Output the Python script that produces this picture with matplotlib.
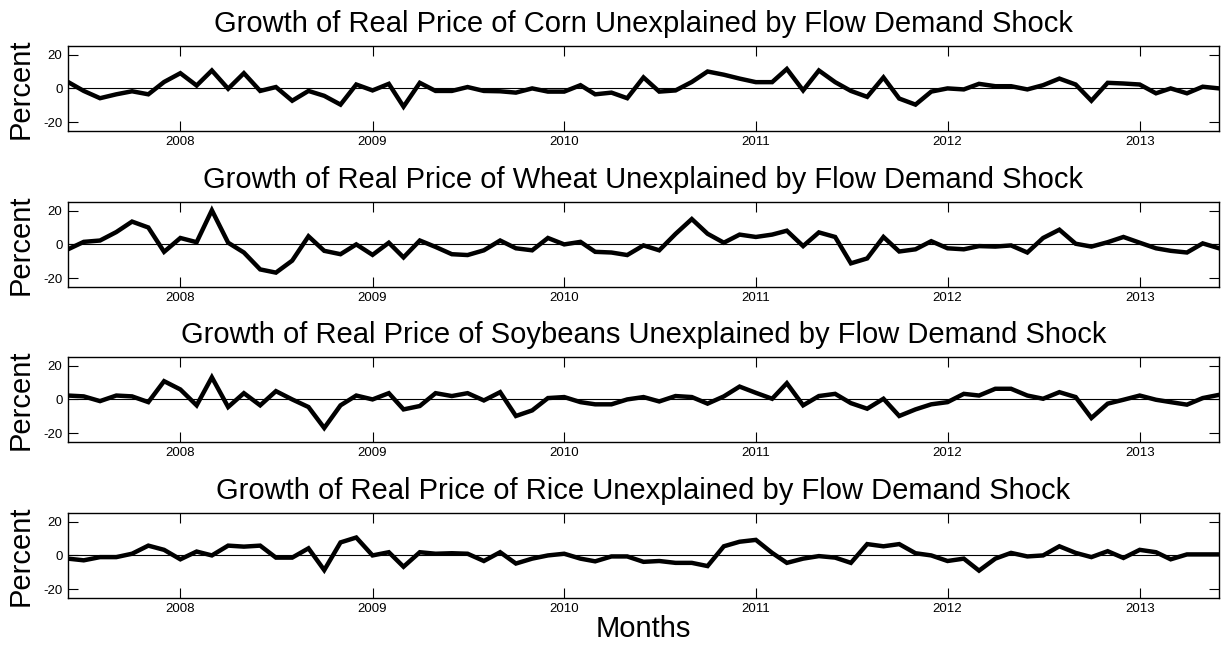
import matplotlib
matplotlib.use("Agg")
import matplotlib.pyplot as plt
import matplotlib.dates as mdates
import numpy as np
import pandas as pd

plt.rcParams['font.family'] = ['Liberation Sans', 'DejaVu Sans']
plt.rcParams['axes.unicode_minus'] = False

# monthly observations, Jun 2007 .. Jun 2013
months = pd.date_range('2007-06-01', '2013-06-01', freq='MS')

corn = [3.8, -1.5, -5.8, -3.5, -1.7, -3.5, 3.8, 9.0, 1.7, 10.6, -0.2, 9.0,
        -1.5, 0.8, -7.3, -1.5, -4.4, -9.6, 2.3, -1.2, 2.7, -10.8,
        3.3, -1.5, -1.5, 0.8, -1.5, -1.7, -2.5, 0.0, -1.9, -1.9, 1.9, -3.5,
        -2.5, -5.8, 6.5, -1.9, -1.2, 3.8, 10.0, 8.1, 5.8, 3.7, 3.7, 11.5, -1.2,
        10.6, 3.7, -1.5, -5.0, 6.5, -6.0, -9.6, -1.9, 0.0, -0.6, 2.7, 1.3,
        1.3, -0.6, 1.9, 5.8, 2.3, -7.3, 3.3, 2.9, 2.3, -2.9, 0.0, -2.9, 1.0, 0.0]

wheat = [-2.9, 1.5, 2.3, 7.3, 13.5, 10.0, -4.4, 3.8, 1.3, 20.2, 1.0, -4.8,
         -14.8, -16.7, -9.6, 4.8, -3.8, -5.8, 0.0, -6.2, 1.0, -7.7,
         2.3, -1.5, -5.8, -6.3, -3.5, 2.3, -2.3, -3.5, 3.8, 0.0, 1.5, -4.4,
         -4.8, -6.3, -0.6, -3.5, 6.2, 15.0, 6.3, 1.0, 5.8, 4.4, 5.8, 8.1, -1.0,
         7.1, 4.4, -11.2, -8.3, 4.4, -4.2, -2.9, 1.9, -2.3, -2.9, -1.0, -1.3,
         -0.6, -4.8, 3.8, 8.7, 0.4, -1.3, 1.3, 4.4, 1.0, -2.3, -3.8, -4.8, 0.6, -2.3]

soybeans = [2.3, 1.8, -1.0, 2.3, 1.8, -1.6, 10.8, 5.9, -3.5, 13.1, -4.5, 3.7,
            -3.5, 4.9, 0.0, -4.5, -16.9, -3.5, 2.3, 0.0, 3.7, -5.9,
            -3.9, 3.7, 2.0, 3.7, -0.6, 4.3, -9.8, -6.5, 0.8, 1.4, -1.6, -2.9,
            -2.9, 0.0, 1.4, -1.2, 2.0, 1.4, -2.5, 1.8, 7.6, 3.9, 0.4, 9.6, -3.5,
            2.0, 3.3, -2.2, -5.5, 0.4, -9.8, -5.9, -2.9, -1.6, 3.3, 2.3, 6.3,
            6.3, 2.3, 0.4, 4.3, 1.4, -11.0, -2.5, -0.2, 2.3, -0.2, -1.6, -3.1, 0.8, 2.7]

rice = [-1.9, -2.9, -1.0, -1.0, 1.0, 5.8, 3.3, -2.3, 2.3, 0.0, 5.8, 5.2,
        5.8, -1.3, -1.3, 4.2, -8.7, 7.7, 10.6, 0.0, 1.9, -6.7,
        1.9, 1.0, 1.3, 1.0, -3.3, 1.9, -4.8, -1.9, 0.0, 1.0, -1.9, -3.5,
        -0.6, -0.6, -3.8, -3.3, -4.4, -4.4, -6.3, 5.4, 8.1, 9.2, 1.5, -4.4, -1.9,
        -0.4, -1.3, -4.4, 6.7, 5.4, 6.7, 1.3, 0.0, -3.3, -1.9, -9.0, -1.9,
        1.5, -0.6, 0.0, 5.4, 1.5, -1.0, 2.5, -1.5, 3.3, 1.9, -2.3, 0.6, 0.6, 0.6]

titles = ['Growth of Real Price of Corn Unexplained by Flow Demand Shock',
          'Growth of Real Price of Wheat Unexplained by Flow Demand Shock',
          'Growth of Real Price of Soybeans Unexplained by Flow Demand Shock',
          'Growth of Real Price of Rice Unexplained by Flow Demand Shock']
series = [corn, wheat, soybeans, rice]

fig = plt.figure(figsize=(12.25, 6.5), dpi=100)
bottoms = [0.799, 0.559, 0.3205, 0.0805]

for k in range(4):
    ax = fig.add_axes([0.0555, bottoms[k], 0.9396, 0.13])
    ax.axhline(0, color='k', lw=0.8)
    ax.plot(months, series[k], color='k', lw=3.2, solid_joinstyle='miter')
    ax.set_xlim(months[0], months[-1])
    ax.set_ylim(-25, 25)
    ax.set_yticks([-20, 0, 20])
    ax.xaxis.set_major_locator(mdates.YearLocator())
    ax.xaxis.set_major_formatter(mdates.DateFormatter('%Y'))
    ax.tick_params(direction='in', length=7.5, width=0.8, top=True, right=True,
                   labelsize=9.5, pad=4)
    for s in ax.spines.values():
        s.set_linewidth(1.0)
    ax.set_title(titles[k], fontsize=21, pad=10)
    ax.set_ylabel('Percent', fontsize=21, labelpad=6)
    if k == 3:
        ax.set_xlabel('Months', fontsize=21, labelpad=0)

fig.savefig('out.png', dpi=100)
